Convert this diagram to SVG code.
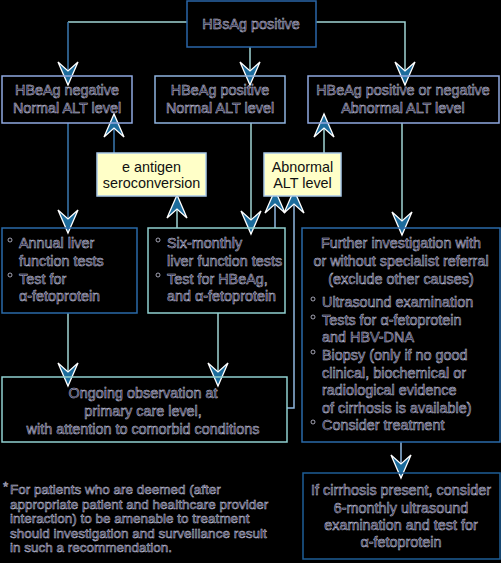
<svg xmlns="http://www.w3.org/2000/svg" width="501" height="563" viewBox="0 0 501 563">
<style>
  .t{font-family:"Liberation Sans",Arial,sans-serif;font-size:14.4px;fill:#16163a;stroke:#c8c8dc;stroke-width:0.5}
  .c{text-anchor:middle}
  .y{font-family:"Liberation Sans",Arial,sans-serif;font-size:14.4px;fill:#111;text-anchor:middle}
  .f{font-family:"Liberation Sans",Arial,sans-serif;font-size:13.5px;fill:#16163a;stroke:#c8c8dc;stroke-width:0.5}
  .bx{fill:none;stroke-width:1.5}
  .yb{fill:#ffffc8;stroke:#a8c8e8;stroke-width:1.5}
  .bul{fill:none;stroke:#c8c8dc;stroke-width:0.8}
  .ln{fill:none;stroke:#a0d4d4;stroke-width:1.5}
  .lb{fill:none;stroke:#3a78b0;stroke-width:1.5}
  .lm{fill:none;stroke:#90b8e0;stroke-width:1.5}
</style>
<defs>
  <marker id="ah" viewBox="-25 -12 27 24" refX="0" refY="0" markerWidth="27" markerHeight="24" markerUnits="userSpaceOnUse" orient="auto" overflow="visible">
    <path d="M0,0 L-23,-10 L-14,0 L-23,10 Z" fill="#1c6c9c" stroke="#ffffff" stroke-width="1.3"/>
  </marker>
</defs>
<rect x="0" y="0" width="501" height="563" fill="#000"/>

<g id="connectors">
  <path class="ln" d="M187,22 H68"/>
  <path class="lb" d="M68,22 V85" marker-end="url(#ah)"/>
  <path class="ln" d="M250,47 V85" marker-end="url(#ah)"/>
  <path class="ln" d="M316,22 H405 V85" marker-end="url(#ah)"/>
  <path class="lb" d="M68,123 V233" marker-end="url(#ah)"/>
  <path class="lb" d="M114,153 V114" marker-end="url(#ah)"/>
  <path class="ln" d="M177,228 V195" marker-end="url(#ah)"/>
  <path class="ln" d="M251,123 V234" marker-end="url(#ah)"/>
  <path class="ln" d="M324,153 V114" marker-end="url(#ah)"/>
  <path class="lm" d="M275,228 V190" marker-end="url(#ah)"/>
  <path class="lm" d="M287,408 H294 V190" marker-end="url(#ah)"/>
  <path class="ln" d="M402,123 V235" marker-end="url(#ah)"/>
  <path class="ln" d="M68,313 V386" marker-end="url(#ah)"/>
  <path class="ln" d="M218,313 V386" marker-end="url(#ah)"/>
  <path class="lm" d="M401,442 V478" marker-end="url(#ah)"/>
</g>

<g id="n-hbsag">
  <rect class="bx" x="187" y="1" width="129" height="46" stroke="#2a66a8"/>
  <text class="t c" x="251" y="29">HBsAg positive</text>
</g>

<g id="n-neg">
  <rect class="bx" x="2" y="76" width="130" height="47" stroke="#8fa8e0"/>
  <text class="t c" x="67" y="95">HBeAg negative</text>
  <text class="t c" x="67" y="113">Normal ALT level</text>
</g>
<g id="n-pos">
  <rect class="bx" x="155" y="76" width="130" height="47" stroke="#8fb4e0"/>
  <text class="t c" x="220" y="95">HBeAg positive</text>
  <text class="t c" x="220" y="113">Normal ALT level</text>
</g>
<g id="n-abn">
  <rect class="bx" x="308" y="76" width="191" height="47" stroke="#8fa8e0"/>
  <text class="t c" x="403" y="95">HBeAg positive or negative</text>
  <text class="t c" x="403" y="113">Abnormal ALT level</text>
</g>

<g id="n-seroconv">
  <rect class="yb" x="97" y="153" width="109" height="43"/>
  <text class="y" x="151.5" y="172">e antigen</text>
  <text class="y" x="151.5" y="188">seroconversion</text>
</g>
<g id="n-abnalt">
  <rect class="yb" x="264" y="153" width="77" height="43"/>
  <text class="y" x="302.5" y="172">Abnormal</text>
  <text class="y" x="302.5" y="188">ALT level</text>
</g>

<g id="n-annual">
  <rect class="bx" x="2" y="228" width="135" height="85" stroke="#2a6aa8"/>
  <circle class="bul" cx="10" cy="240" r="2"/>
  <circle class="bul" cx="10" cy="275" r="2"/>
  <text class="t" x="19" y="248">Annual liver</text>
  <text class="t" x="19" y="266">function tests</text>
  <text class="t" x="19" y="284">Test for</text>
  <text class="t" x="19" y="301">α-fetoprotein</text>
</g>
<g id="n-sixmonthly">
  <rect class="bx" x="148" y="228" width="137" height="85" stroke="#90d0d0"/>
  <circle class="bul" cx="158" cy="240" r="2"/>
  <circle class="bul" cx="158" cy="275" r="2"/>
  <text class="t" x="167" y="248">Six-monthly</text>
  <text class="t" x="167" y="266">liver function tests</text>
  <text class="t" x="167" y="284">Test for HBeAg,</text>
  <text class="t" x="167" y="301">and α-fetoprotein</text>
</g>
<g id="n-further">
  <rect class="bx" x="302" y="228" width="198" height="214" stroke="#2a6aa8"/>
  <text class="t c" x="401" y="248">Further investigation with</text>
  <text class="t c" x="401" y="266">or without specialist referral</text>
  <text class="t c" x="401" y="284">(exclude other causes)</text>
  <circle class="bul" cx="313" cy="299" r="2"/>
  <circle class="bul" cx="313" cy="317" r="2"/>
  <circle class="bul" cx="313" cy="352" r="2"/>
  <circle class="bul" cx="313" cy="422" r="2"/>
  <text class="t" x="322" y="307">Ultrasound examination</text>
  <text class="t" x="322" y="325">Tests for α-fetoprotein</text>
  <text class="t" x="322" y="342">and HBV-DNA</text>
  <text class="t" x="322" y="360">Biopsy (only if no good</text>
  <text class="t" x="322" y="378">clinical, biochemical or</text>
  <text class="t" x="322" y="395">radiological evidence</text>
  <text class="t" x="322" y="413">of cirrhosis is available)</text>
  <text class="t" x="322" y="430">Consider treatment</text>
</g>
<g id="n-ongoing">
  <rect class="bx" x="2" y="377" width="285" height="65" stroke="#90d0d0"/>
  <text class="t c" x="143" y="398">Ongoing observation at</text>
  <text class="t c" x="143" y="416">primary care level,</text>
  <text class="t c" x="143" y="434">with attention to comorbid conditions</text>
</g>
<g id="n-cirrhosis">
  <rect class="bx" x="303" y="473" width="197" height="86" stroke="#1e5e96"/>
  <text class="t c" x="401" y="495">If cirrhosis present, consider</text>
  <text class="t c" x="401" y="513">6-monthly ultrasound</text>
  <text class="t c" x="401" y="530">examination and test for</text>
  <text class="t c" x="401" y="547">α-fetoprotein</text>
</g>
<g id="n-footnote">
  <text class="f" x="3" y="491">*</text>
  <text class="f" x="10" y="494">For patients who are deemed (after</text>
  <text class="f" x="10" y="508.5">appropriate patient and healthcare provider</text>
  <text class="f" x="10" y="523">interaction) to be amenable to treatment</text>
  <text class="f" x="10" y="537.5">should investigation and surveillance result</text>
  <text class="f" x="10" y="552">in such a recommendation.</text>
</g>
</svg>
